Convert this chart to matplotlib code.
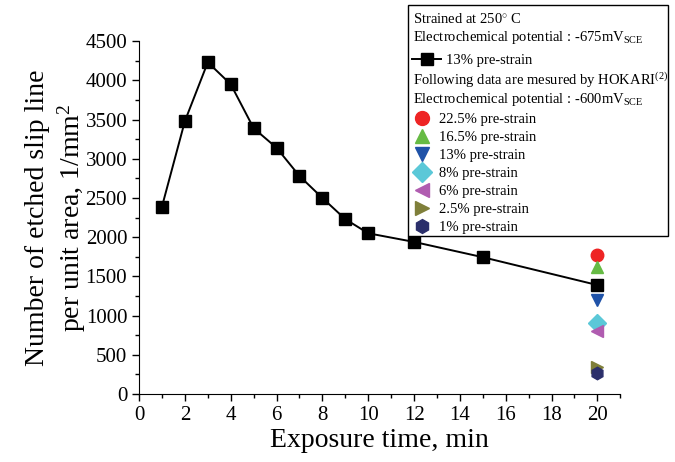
import matplotlib
matplotlib.use("Agg")
import matplotlib.pyplot as plt
from matplotlib.patches import Rectangle
from matplotlib.ticker import MultipleLocator

# Serif look like the original (Times style)
plt.rcParams['font.family'] = ['Liberation Serif', 'DejaVu Serif']
plt.rcParams['mathtext.fontset'] = 'custom'
plt.rcParams['mathtext.rm'] = 'Liberation Serif'
plt.rcParams['mathtext.it'] = 'Liberation Serif:italic'

# Present work: 13% pre-strain, -675 mV_SCE
time_min = [1, 2, 3, 4, 5, 6, 7, 8, 9, 10, 12, 15, 20]
slip_lines = [2390, 3480, 4230, 3950, 3390, 3140, 2780, 2500, 2230, 2050, 1940, 1745, 1390]

# HOKARI data at 20 min, -600 mV_SCE
hokari_labels = ["22.5% pre-strain", "16.5% pre-strain", "13% pre-strain", "8% pre-strain",
                 "6% pre-strain", "2.5% pre-strain", "1% pre-strain"]
hokari_time = [20, 20, 20, 20, 20, 20, 20]
hokari_values = [1770, 1620, 1200, 910, 800, 350, 270]
hokari_markers = ['o', '^', 'v', 'D', '<', '>', 'h']
hokari_colors = ['#EE2424', '#66BB44', '#1F52A8', '#5BC8D8', '#B05CB0', '#7F7F3A', '#2B2F6B']

fig = plt.figure(figsize=(6.75, 4.62), dpi=100)
ax = fig.add_axes([0.206, 0.147, 0.713, 0.764])

line, = ax.plot(time_min, slip_lines, color='black', lw=1.4, marker='s', ms=8.5,
                mfc='black', mec='black', zorder=4)

hokari_handles = []
for t, v, m, c in zip(hokari_time, hokari_values, hokari_markers, hokari_colors):
    h, = ax.plot([t], [v], linestyle='none', marker=m, ms=9, color=c, mec=c, zorder=3)
    hokari_handles.append(h)

ax.set_xlim(0, 21)
ax.set_ylim(0, 4500)
ax.xaxis.set_major_locator(MultipleLocator(2))
ax.xaxis.set_minor_locator(MultipleLocator(1))
ax.yaxis.set_major_locator(MultipleLocator(500))
ax.yaxis.set_minor_locator(MultipleLocator(250))
ax.spines['top'].set_visible(False)
ax.spines['right'].set_visible(False)
ax.tick_params(which='major', direction='out', length=5, width=1, labelsize=15)
ax.tick_params(which='minor', direction='out', length=3, width=1)

ax.set_xlabel("Exposure time, min", fontsize=20, labelpad=2)
ax.set_ylabel("Number of etched slip line\nper unit area, 1/mm$^2$", fontsize=20,
              linespacing=1.25, labelpad=-2)

# legend box (figure coordinates)
box = Rectangle((0.604, 0.489), 0.386, 0.500, transform=fig.transFigure,
                facecolor='white', edgecolor='black', lw=1.0, zorder=10)
fig.add_artist(box)

def fy(py):
    return 1 - py / 462

def fx(px):
    return px / 675

fs = 10.5
fig.text(fx(413), fy(19), "Strained at 250$^{\\circ}$ C", fontsize=fs, va='center', zorder=11)
fig.text(fx(413), fy(38), "Electrochemical potential : -675mV$_{\\rm SCE}$", fontsize=fs,
         va='center', zorder=11)
fig.text(fx(413), fy(80), "Following data are mesured by HOKARI$^{(2)}$", fontsize=fs,
         va='center', zorder=11)
fig.text(fx(413), fy(99), "Electrochemical potential : -600mV$_{\\rm SCE}$", fontsize=fs,
         va='center', zorder=11)

leg1 = fig.legend([line], ["13% pre-strain"], loc='center left',
                  bbox_to_anchor=(fx(412), fy(60)), frameon=False, fontsize=fs,
                  handlelength=2.0, handletextpad=0.3, borderpad=0, borderaxespad=0)
leg1.set_zorder(12)
for h in leg1.legend_handles:
    h.set_markersize(8)

leg2 = fig.legend(hokari_handles, hokari_labels, loc='upper left',
                  bbox_to_anchor=(fx(413), fy(113)), frameon=False, fontsize=fs,
                  handlelength=1.2, handletextpad=0.6, labelspacing=0.33,
                  borderpad=0, borderaxespad=0)
leg2.set_zorder(12)
for h in leg2.legend_handles:
    h.set_markersize(10)

fig.savefig("out.png", dpi=100)
